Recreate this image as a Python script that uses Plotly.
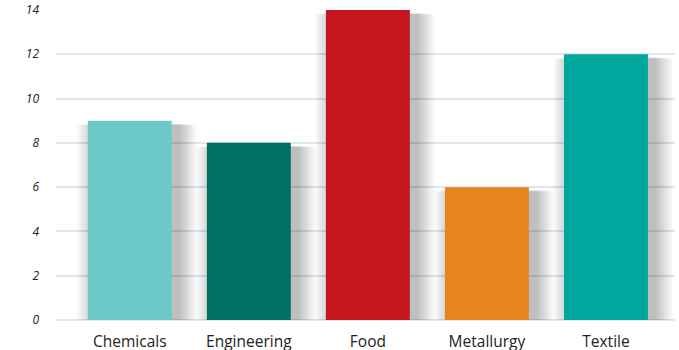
import plotly.graph_objects as go

categories = ["Chemicals", "Engineering", "Food", "Metallurgy", "Textile"]
values = [9, 8, 14, 6, 12]
colors = ["#6cc9c7", "#006f66", "#c4161c", "#e8841e", "#00a79d"]
y_ticks = [0, 2, 4, 6, 8, 10, 12, 14]

bar_width = 0.705
fig = go.Figure()

# soft drop shadow: stacked translucent layers, each slightly larger,
# shifted a little to the right and down
n_layers = 16
for k in range(1, n_layers + 1):
    grow = 0.0095 * k
    w = bar_width + 2 * grow
    fig.add_trace(go.Bar(
        x=categories,
        y=[v + 0.03 * k for v in values],
        base=-0.12 - 0.035 * k,
        width=w,
        offset=-w / 2 + 0.06,
        marker=dict(color="rgba(0,0,0,0.014)", line=dict(width=0)),
        hoverinfo="skip",
        showlegend=False,
        cliponaxis=False,
    ))

fig.add_trace(go.Bar(
    x=categories,
    y=values,
    width=bar_width,
    marker=dict(color=colors, line=dict(width=0)),
    showlegend=False,
    cliponaxis=False,
))

fig.update_layout(
    width=679,
    height=350,
    margin=dict(l=56, r=4, t=10, b=30),
    paper_bgcolor="white",
    plot_bgcolor="white",
    barmode="overlay",
    xaxis=dict(
        range=[-0.62, 4.58],
        automargin=False,
        showgrid=False,
        zeroline=False,
        showline=False,
        ticks="",
        tickfont=dict(family="Open Sans", size=15.5, color="#222222"),
        ticklabelstandoff=10,
    ),
    yaxis=dict(
        range=[0, 14],
        automargin=False,
        tickvals=y_ticks,
        ticktext=[f"<i>{t}</i>" for t in y_ticks],
        showgrid=True,
        gridcolor="#dde7ee",
        gridwidth=1.5,
        zeroline=True,
        zerolinecolor="#dde7ee",
        zerolinewidth=1.5,
        showline=False,
        ticks="",
        tickfont=dict(family="Open Sans", size=12, color="#222222"),
        ticklabelstandoff=16,
    ),
)

fig.write_html("out.html")
